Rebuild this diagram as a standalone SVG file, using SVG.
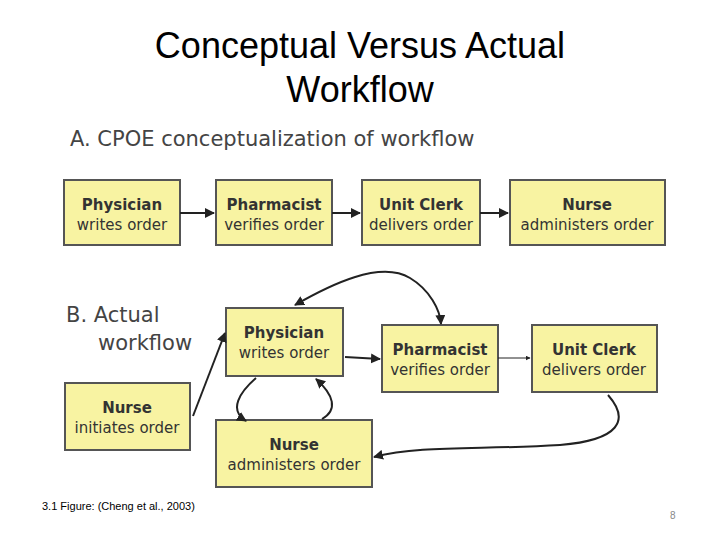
<svg xmlns="http://www.w3.org/2000/svg" width="720" height="540" viewBox="0 0 720 540">
<style>
.b{fill:#f8f3a2;stroke:#555;stroke-width:2}
.t{font-family:"DejaVu Sans",sans-serif;font-size:15px;fill:#333;text-anchor:middle}
.h{font-weight:bold}
.c{fill:none;stroke:#222;stroke-width:2;marker-end:url(#a)}
.s{font-family:"DejaVu Sans",sans-serif;font-size:21px;fill:#444}
</style>
<defs><marker id="a" viewBox="0 0 10 10" refX="9" refY="5" markerWidth="5" markerHeight="5" orient="auto-start-reverse"><path d="M0,0L10,5L0,10z" fill="#222"/></marker></defs>
<rect width="720" height="540" fill="#fff"/>
<text x="360" y="58" font-family="Liberation Sans,sans-serif" font-size="36" text-anchor="middle">Conceptual Versus Actual</text>
<text x="360" y="102" font-family="Liberation Sans,sans-serif" font-size="36" text-anchor="middle">Workflow</text>
<text class="s" x="70" y="146">A. CPOE conceptualization of workflow</text>
<text class="s" x="66" y="322">B. Actual</text>
<text class="s" x="98" y="350">workflow</text>
<g id="a1"><rect class="b" x="64" y="180" width="116" height="65"/><text class="t h" x="122" y="210">Physician</text><text class="t" x="122" y="230">writes order</text></g>
<g id="a2"><rect class="b" x="216" y="180" width="116" height="65"/><text class="t h" x="274" y="210">Pharmacist</text><text class="t" x="274" y="230">verifies order</text></g>
<g id="a3"><rect class="b" x="362" y="180" width="118" height="65"/><text class="t h" x="421" y="210">Unit Clerk</text><text class="t" x="421" y="230">delivers order</text></g>
<g id="a4"><rect class="b" x="510" y="180" width="155" height="65"/><text class="t h" x="587" y="210">Nurse</text><text class="t" x="587" y="230">administers order</text></g>
<g id="b1"><rect class="b" x="226" y="308" width="117" height="68"/><text class="t h" x="284" y="338">Physician</text><text class="t" x="284" y="358">writes order</text></g>
<g id="b2"><rect class="b" x="382" y="325" width="116" height="67"/><text class="t h" x="440" y="355">Pharmacist</text><text class="t" x="440" y="375">verifies order</text></g>
<g id="b3"><rect class="b" x="532" y="325" width="125" height="67"/><text class="t h" x="594" y="355">Unit Clerk</text><text class="t" x="594" y="375">delivers order</text></g>
<g id="b4"><rect class="b" x="65" y="383" width="125" height="67"/><text class="t h" x="127" y="413">Nurse</text><text class="t" x="127" y="433">initiates order</text></g>
<g id="b5"><rect class="b" x="216" y="420" width="156" height="67"/><text class="t h" x="294" y="450">Nurse</text><text class="t" x="294" y="470">administers order</text></g>
<g id="connectors">
<path class="c" d="M180,213H214"/>
<path class="c" d="M332,213H360"/>
<path class="c" d="M480,213H508"/>
<path class="c" d="M193,416L225,333"/>
<path class="c" d="M345,357L380,359"/>
<path class="c" d="M498,358H530" style="stroke-width:1"/>
<path class="c" d="M295,305C330,285 380,260 410,278C430,290 440,310 441,324" style="marker-start:url(#a)"/>
<path class="c" d="M608,395C630,420 620,440 560,445C480,450 420,445 374,457"/>
<path class="c" d="M256,378C240,392 228,410 246,421"/>
<path class="c" d="M322,419C338,410 334,395 316,379"/>
</g>
<text x="42" y="510" font-family="Liberation Sans,sans-serif" font-size="11">3.1 Figure: (Cheng et al., 2003)</text>
<text x="670" y="519" font-family="Liberation Sans,sans-serif" font-size="10" fill="#888">8</text>
</svg>
